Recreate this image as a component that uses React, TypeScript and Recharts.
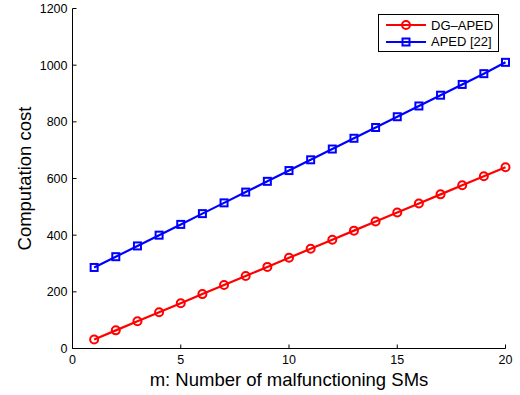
import React from "react";
import { CartesianGrid, Line, LineChart, XAxis, YAxis } from "recharts";

const mValues = [1, 2, 3, 4, 5, 6, 7, 8, 9, 10, 11, 12, 13, 14, 15, 16, 17, 18, 19, 20];
const dgApedCost = [32, 64, 96, 128, 160, 192, 224, 256, 288, 320, 352, 384, 416, 448, 480, 512, 544, 576, 608, 640];
const apedCost = [286, 324, 362, 400, 438, 476, 514, 552, 590, 628, 666, 704, 742, 780, 818, 856, 894, 932, 970, 1010];
const xTicks = [0, 5, 10, 15, 20];
const yTicks = [0, 200, 400, 600, 800, 1000, 1200];

const data = mValues.map((m, i) => ({ m, dg: dgApedCost[i], aped: apedCost[i] }));

const font = "'Liberation Sans', Arial, sans-serif";
const axisStroke = { stroke: "#000", strokeWidth: 1, strokeOpacity: 1 };

function SquareDot(props: any) {
  const { cx, cy, index } = props;
  if (cx == null || cy == null) return null;
  return <rect key={`sq-${index}`} x={cx - 3.5} y={cy - 3.5} width={7} height={7} fill="none" stroke="#0000ff" strokeWidth={2} />;
}

function LegendBox() {
  const rows = [
    { name: "DG\u2013APED", color: "#ff0000", marker: "circle" },
    { name: "APED [22]", color: "#0000ff", marker: "square" },
  ];
  return (
    <div
      style={{
        position: "absolute",
        left: 378,
        top: 14,
        border: "1px solid #000",
        background: "#fff",
        width: 121,
        height: 38,
        fontFamily: font,
        fontSize: 13,
        boxSizing: "border-box",
        paddingTop: 2,
      }}
    >
      {rows.map((r) => (
        <div key={r.name} style={{ display: "flex", alignItems: "center", height: 16.5 }}>
          <svg width={52} height={14} style={{ marginLeft: 5 }}>
            <line x1={2} y1={7} x2={42} y2={7} stroke={r.color} strokeWidth={2.2} />
            {r.marker === "circle" ? (
              <circle cx={22} cy={7} r={4} fill="none" stroke={r.color} strokeWidth={2} />
            ) : (
              <rect x={18.5} y={3.5} width={7} height={7} fill="none" stroke={r.color} strokeWidth={2} />
            )}
          </svg>
          <span style={{ marginLeft: -5, color: "#000" }}>{r.name}</span>
        </div>
      ))}
    </div>
  );
}

export default function App() {
  return (
    <div style={{ position: "absolute", left: 0, top: 0, width: 520, height: 395, background: "#fff" }}>
      <LineChart width={520} height={395} data={data} margin={{ top: 8.5, right: 14.5, bottom: 0, left: 0 }}>
        <CartesianGrid stroke="none" fill="#fff" />
        <XAxis
          xAxisId="b"
          dataKey="m"
          type="number"
          domain={[0, 20]}
          ticks={xTicks}
          tickSize={-4}
          tickMargin={11}
          axisLine={axisStroke}
          tickLine={axisStroke}
          tick={{ fill: "#000", fontSize: 12.5, fontFamily: font }}
          height={46.5}
          label={{ value: "m: Number of malfunctioning SMs", position: "insideBottom", offset: 9, fill: "#000", fontSize: 18.5, fontFamily: font }}
        />
        <XAxis
          xAxisId="t"
          orientation="top"
          dataKey="m"
          type="number"
          domain={[0, 20]}
          ticks={xTicks}
          tickSize={-4}
          axisLine={axisStroke}
          tickLine={axisStroke}
          tickFormatter={() => ""}
          height={0}
        />
        <YAxis
          yAxisId="l"
          type="number"
          domain={[0, 1200]}
          ticks={yTicks}
          tickSize={-4}
          tickMargin={9}
          axisLine={axisStroke}
          tickLine={axisStroke}
          tick={{ fill: "#000", fontSize: 12.5, fontFamily: font }}
          width={72.5}
          label={{ value: "Computation cost", angle: -90, position: "insideLeft", offset: 24, fill: "#000", fontSize: 18.5, fontFamily: font, style: { textAnchor: "middle" } }}
        />
        <YAxis
          yAxisId="r"
          orientation="right"
          type="number"
          domain={[0, 1200]}
          ticks={yTicks}
          tickSize={-4}
          axisLine={axisStroke}
          tickLine={axisStroke}
          tickFormatter={() => ""}
          width={0}
        />
        <Line
          xAxisId="b"
          yAxisId="l"
          dataKey="dg"
          name="DG-APED"
          stroke="#ff0000"
          strokeWidth={2.2}
          dot={{ r: 4, fill: "none", stroke: "#ff0000", strokeWidth: 2 }}
          isAnimationActive={false}
        />
        <Line
          xAxisId="b"
          yAxisId="l"
          dataKey="aped"
          name="APED [22]"
          stroke="#0000ff"
          strokeWidth={2.2}
          dot={<SquareDot />}
          isAnimationActive={false}
        />
      </LineChart>
      <LegendBox />
    </div>
  );
}
